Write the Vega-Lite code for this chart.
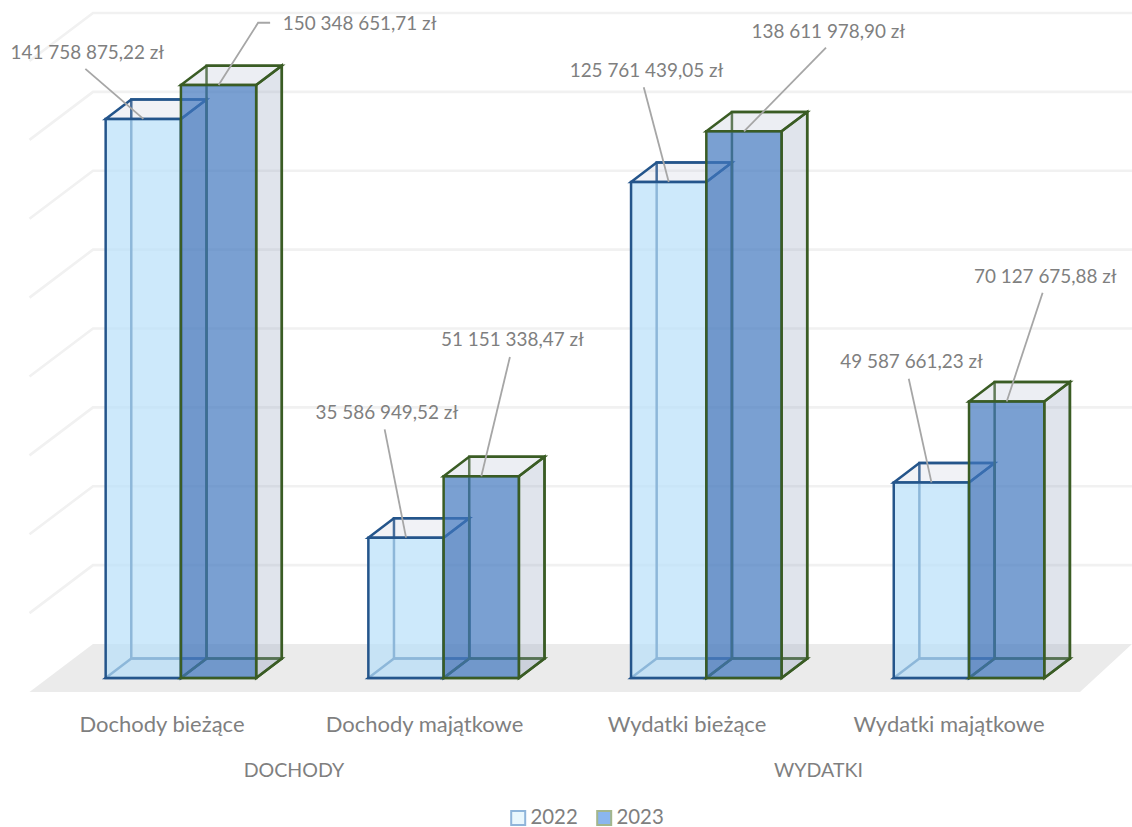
{
"$schema":"https://vega.github.io/schema/vega-lite/v6.json",
"width":1132,"height":692,
"autosize":{"type":"none"},
"padding":{"left":0,"right":0,"top":0,"bottom":135},
"background":"#ffffff",
"config":{"view":{"stroke":null},"text":{"font":"Lato"}},
"datasets":{
"bars":[
{"group":"DOCHODY","category":"Dochody bieżące","year":2022,"value":141758875.22,"label":"141 758 875,22 zł"},
{"group":"DOCHODY","category":"Dochody bieżące","year":2023,"value":150348651.71,"label":"150 348 651,71 zł"},
{"group":"DOCHODY","category":"Dochody majątkowe","year":2022,"value":35586949.52,"label":"35 586 949,52 zł"},
{"group":"DOCHODY","category":"Dochody majątkowe","year":2023,"value":51151338.47,"label":"51 151 338,47 zł"},
{"group":"WYDATKI","category":"Wydatki bieżące","year":2022,"value":125761439.05,"label":"125 761 439,05 zł"},
{"group":"WYDATKI","category":"Wydatki bieżące","year":2023,"value":138611978.90,"label":"138 611 978,90 zł"},
{"group":"WYDATKI","category":"Wydatki majątkowe","year":2022,"value":49587661.23,"label":"49 587 661,23 zł"},
{"group":"WYDATKI","category":"Wydatki majątkowe","year":2023,"value":70127675.88,"label":"70 127 675,88 zł"}
],
"grid":[{"gridValue":20000000},{"gridValue":40000000},{"gridValue":60000000},{"gridValue":80000000},{"gridValue":100000000},{"gridValue":120000000},{"gridValue":140000000},{"gridValue":160000000}],
"floor":[{"edge":"front"},{"edge":"back"}]
},
"data":{"name":"bars"},
"transform":[
{"calculate":"indexof(['Dochody bieżące','Dochody majątkowe','Wydatki bieżące','Wydatki majątkowe'],datum.category)","as":"idx"},
{"calculate":"datum.idx+0.2138+(datum.year-2022)*0.2865","as":"left"},
{"calculate":"datum.left+0.2865","as":"right"},
{"calculate":"datum.left+0.0975","as":"backL"},
{"calculate":"datum.right+0.0975","as":"backR"},
{"calculate":"datum.value+4920000","as":"topB"},
{"calculate":"4920000","as":"baseB"},
{"calculate":"0","as":"zero"},
{"calculate":"datum.idx*2+datum.year-2022","as":"i"},
{"calculate":"[0,1]","as":"depth"},
{"flatten":["depth"]},
{"calculate":"datum.left+datum.depth*0.0975","as":"fl"},
{"calculate":"datum.right+datum.depth*0.0975","as":"fr"},
{"calculate":"datum.depth*4920000","as":"by"},
{"calculate":"datum.value+datum.depth*4920000","as":"ty"}
],
"layer":[
{"data":{"name":"floor"},
 "transform":[
 {"calculate":"datum.edge=='front'?-0.0761:0.1656","as":"x1"},
 {"calculate":"datum.edge=='front'?3.9227:4.1207","as":"x2"},
 {"calculate":"datum.edge=='front'?-3550000:8620000","as":"yy"}],
 "mark":{"type":"area","orient":"horizontal","color":"#ebebeb"},
 "encoding":{
 "x":{"field":"x1","type":"quantitative","scale":{"domain":[-0.1884,4.1207],"nice":false,"zero":false},
  "axis":{"orient":"bottom","title":null,"domain":false,"ticks":false,"grid":false,"values":[0.4263,1.4256,2.4248,3.4221],"labelExpr":"['Dochody bieżące','Dochody majątkowe','Wydatki bieżące','Wydatki majątkowe'][floor(datum.value)]","labelFont":"Lato","labelFontSize":22,"labelLimit":400,"labelColor":"#7f7f7f","labelPadding":22,"labelOverlap":false,"labelFlush":false}},
 "x2":{"field":"x2"},
 "y":{"field":"yy","type":"quantitative","scale":{"domain":[-3550000,171910000],"nice":false,"zero":false},"axis":null}
 }},
{"data":{"name":"grid"},
 "transform":[
 {"calculate":"[-0.0761,0.1656,4.1207]","as":"gx"},
 {"calculate":"[datum.gridValue-3550000,datum.gridValue+8620000,datum.gridValue+8620000]","as":"gy"},
 {"flatten":["gx","gy"]}],
 "mark":{"type":"line","color":"#f1f1f1","strokeWidth":2.6},
 "encoding":{
 "x":{"field":"gx","type":"quantitative","scale":{"domain":[-0.1884,4.1207],"nice":false,"zero":false},
  "axis":{"orient":"bottom","title":null,"domain":false,"ticks":false,"grid":false,"values":[0.9288,2.9254],"labelExpr":"datum.value<2?'DOCHODY':'WYDATKI'","labelFont":"Lato","labelFontSize":19.6,"labelLimit":400,"labelColor":"#7f7f7f","labelPadding":69,"labelOverlap":false,"labelFlush":false}},
 "y":{"field":"gy","type":"quantitative","scale":{"domain":[-3550000,171910000],"nice":false,"zero":false},"axis":null},
 "detail":{"field":"gridValue"}
 }},
{"transform":[{"filter":"datum.depth==0"}],
 "mark":{"type":"rect","opacity":0},
 "encoding":{"x":{"field":"left","type":"quantitative","scale":{"domain":[-0.1884,4.1207],"nice":false,"zero":false},"axis":null},"x2":{"field":"right"},
  "y":{"field":"value","type":"quantitative","scale":{"domain":[-3550000,171910000],"nice":false,"zero":false},"axis":null},"y2":{"field":"zero"},
  "fill":{"field":"year","type":"nominal","scale":{"domain":[2022,2023],"range":["#e9f7fd","#8ab6ee"]},
   "legend":{"title":null,"orient":"none","legendX":508,"legendY":807.5,"direction":"horizontal","symbolType":"square","symbolSize":196,"symbolStrokeWidth":2,"labelFont":"Lato","labelFontSize":20.4,"labelLimit":200,"labelColor":"#7f7f7f","labelOffset":2,"columnPadding":15,"symbolOffset":0,
   "encode":{"symbols":{"update":{"opacity":{"value":1},"fillOpacity":{"value":1},"strokeOpacity":{"value":1}}}}}},
  "stroke":{"field":"year","type":"nominal","scale":{"domain":[2022,2023],"range":["#8fb5da","#a3b68c"]},
   "legend":{"title":null,"orient":"none","legendX":508,"legendY":807.5,"direction":"horizontal","symbolType":"square","symbolSize":196,"symbolStrokeWidth":2,"labelFont":"Lato","labelFontSize":20.4,"labelLimit":200,"labelColor":"#7f7f7f","labelOffset":2,"columnPadding":15,"symbolOffset":0,
   "encode":{"symbols":{"update":{"opacity":{"value":1},"fillOpacity":{"value":1},"strokeOpacity":{"value":1}}}}}}}},
{"transform":[{"filter":"datum.year==2022"}],
 "encoding":{"detail":{"field":"category"}},
 "layer":[
 {"transform":[{"filter":"datum.depth==0"}],"mark":{"type":"rect","fillOpacity":0,"fill":"#ffffff","stroke":"#24558b","strokeWidth":2.5},
  "encoding":{"x":{"field":"backL","type":"quantitative","scale":{"domain":[-0.1884,4.1207],"nice":false,"zero":false},"axis":null},"x2":{"field":"backR"},
  "y":{"field":"topB","type":"quantitative","scale":{"domain":[-3550000,171910000],"nice":false,"zero":false},"axis":null},"y2":{"field":"baseB"}}},
 {"mark":{"type":"area","orient":"horizontal","fill":"#98a5c0","fillOpacity":0.1,"stroke":"#24558b","strokeWidth":2.5},
  "encoding":{"x":{"field":"fl","type":"quantitative","scale":{"domain":[-0.1884,4.1207],"nice":false,"zero":false},"axis":null},"x2":{"field":"fr"},
  "y":{"field":"by","type":"quantitative","scale":{"domain":[-3550000,171910000],"nice":false,"zero":false},"axis":null}}},
 {"mark":{"type":"area","fill":"#98a5c0","fillOpacity":0.3,"stroke":"#24558b","strokeWidth":2.5},
  "encoding":{"x":{"field":"fr","type":"quantitative","scale":{"domain":[-0.1884,4.1207],"nice":false,"zero":false},"axis":null},
  "y":{"field":"ty","type":"quantitative","scale":{"domain":[-3550000,171910000],"nice":false,"zero":false},"axis":null},"y2":{"field":"by"}}},
 {"mark":{"type":"area","orient":"horizontal","fill":"#c0c6d7","fillOpacity":0.22,"stroke":"#24558b","strokeWidth":2.5},
  "encoding":{"x":{"field":"fl","type":"quantitative","scale":{"domain":[-0.1884,4.1207],"nice":false,"zero":false},"axis":null},"x2":{"field":"fr"},
  "y":{"field":"ty","type":"quantitative","scale":{"domain":[-3550000,171910000],"nice":false,"zero":false},"axis":null}}},
 {"transform":[{"filter":"datum.depth==0"}],"mark":{"type":"rect","fill":"#b8e0f9","fillOpacity":0.71,"stroke":"#24558b","strokeWidth":2.5},
  "encoding":{"x":{"field":"left","type":"quantitative","scale":{"domain":[-0.1884,4.1207],"nice":false,"zero":false},"axis":null},"x2":{"field":"right"},
  "y":{"field":"value","type":"quantitative","scale":{"domain":[-3550000,171910000],"nice":false,"zero":false},"axis":null},"y2":{"field":"zero"}}}
 ]},
{"transform":[{"filter":"datum.year==2023"}],
 "encoding":{"detail":{"field":"category"}},
 "layer":[
 {"transform":[{"filter":"datum.depth==0"}],"mark":{"type":"rect","fillOpacity":0,"fill":"#ffffff","stroke":"#3a5c24","strokeWidth":2.5},
  "encoding":{"x":{"field":"backL","type":"quantitative","scale":{"domain":[-0.1884,4.1207],"nice":false,"zero":false},"axis":null},"x2":{"field":"backR"},
  "y":{"field":"topB","type":"quantitative","scale":{"domain":[-3550000,171910000],"nice":false,"zero":false},"axis":null},"y2":{"field":"baseB"}}},
 {"mark":{"type":"area","orient":"horizontal","fill":"#98a5c0","fillOpacity":0.1,"stroke":"#3a5c24","strokeWidth":2.5},
  "encoding":{"x":{"field":"fl","type":"quantitative","scale":{"domain":[-0.1884,4.1207],"nice":false,"zero":false},"axis":null},"x2":{"field":"fr"},
  "y":{"field":"by","type":"quantitative","scale":{"domain":[-3550000,171910000],"nice":false,"zero":false},"axis":null}}},
 {"mark":{"type":"area","fill":"#98a5c0","fillOpacity":0.3,"stroke":"#3a5c24","strokeWidth":2.5},
  "encoding":{"x":{"field":"fr","type":"quantitative","scale":{"domain":[-0.1884,4.1207],"nice":false,"zero":false},"axis":null},
  "y":{"field":"ty","type":"quantitative","scale":{"domain":[-3550000,171910000],"nice":false,"zero":false},"axis":null},"y2":{"field":"by"}}},
 {"mark":{"type":"area","orient":"horizontal","fill":"#c0c6d7","fillOpacity":0.3,"stroke":"#3a5c24","strokeWidth":2.5},
  "encoding":{"x":{"field":"fl","type":"quantitative","scale":{"domain":[-0.1884,4.1207],"nice":false,"zero":false},"axis":null},"x2":{"field":"fr"},
  "y":{"field":"ty","type":"quantitative","scale":{"domain":[-3550000,171910000],"nice":false,"zero":false},"axis":null}}},
 {"transform":[{"filter":"datum.depth==0"}],"mark":{"type":"rect","fill":"#4177bf","fillOpacity":0.7,"stroke":"#3a5c24","strokeWidth":2.5},
  "encoding":{"x":{"field":"left","type":"quantitative","scale":{"domain":[-0.1884,4.1207],"nice":false,"zero":false},"axis":null},"x2":{"field":"right"},
  "y":{"field":"value","type":"quantitative","scale":{"domain":[-3550000,171910000],"nice":false,"zero":false},"axis":null},"y2":{"field":"zero"}}}
 ]},
{"transform":[
 {"filter":"datum.depth==0"},
 {"calculate":"[[0,-58],[0,39.5,51.5],[0,-21.4],[0,28.6],[0,-25],[0,82],[0,-22.7],[0,35.9]][datum.i]","as":"ldx"},
 {"calculate":"[[0,-50],[0,-62.3,-62.3],[0,-108.3],[0,-119.3],[0,-94.7],[0,-83.6],[0,-103.7],[0,-108.7]][datum.i]","as":"ldy"},
 {"flatten":["ldx","ldy"]},
 {"calculate":"datum.left+0.1435+datum.ldx/262.7","as":"lx"},
 {"calculate":"datum.value-datum.ldy*1000000/3.944","as":"ly"}],
 "mark":{"type":"line","color":"#a6a6a6","strokeWidth":1.8},
 "encoding":{
 "x":{"field":"lx","type":"quantitative","scale":{"domain":[-0.1884,4.1207],"nice":false,"zero":false},"axis":null},
 "y":{"field":"ly","type":"quantitative","scale":{"domain":[-3550000,171910000],"nice":false,"zero":false},"axis":null},
 "detail":{"field":"i"}}},
{"transform":[
 {"filter":"datum.depth==0"},
 {"calculate":"[-56,141,-19.2,31.1,-22.2,84.3,-19.9,38.6][datum.i]","as":"tdx"},
 {"calculate":"[-66,-61,-124.6,-136,-111,-99.3,-120.4,-124.4][datum.i]","as":"tdy"},
 {"calculate":"datum.left+0.1435+datum.tdx/262.7","as":"tx"},
 {"calculate":"datum.value-datum.tdy*1000000/3.944","as":"ty2"}],
 "mark":{"type":"text","align":"center","baseline":"middle","font":"Lato","fontSize":18.9,"color":"#7f7f7f"},
 "encoding":{
 "x":{"field":"tx","type":"quantitative","scale":{"domain":[-0.1884,4.1207],"nice":false,"zero":false},"axis":null},
 "y":{"field":"ty2","type":"quantitative","scale":{"domain":[-3550000,171910000],"nice":false,"zero":false},"axis":null},
 "text":{"field":"label"}}}
],
"resolve":{"axis":{"x":"independent"}}
}
